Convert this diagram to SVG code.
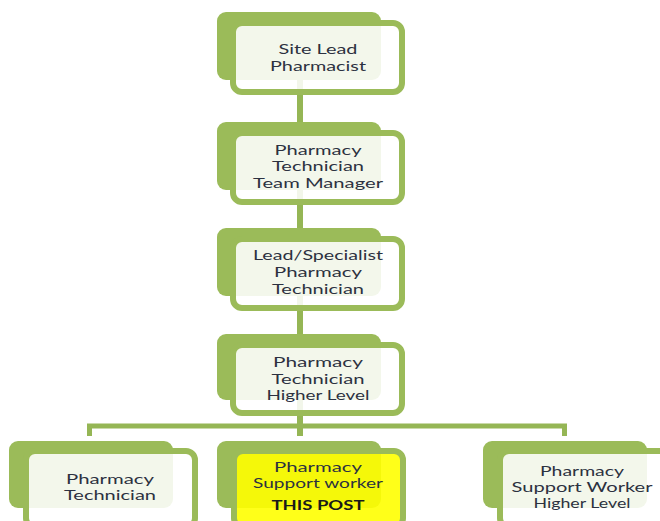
<svg xmlns="http://www.w3.org/2000/svg" width="660" height="521" viewBox="0 0 660 521">
<style>
.back{fill:#9bbb59;}
.front{fill:#ffffff;fill-opacity:0.88;stroke:#9bbb59;stroke-width:6;}
.post{fill:#ffff00;fill-opacity:0.9;stroke:#9bbb59;stroke-width:6;}
.conn{fill:none;stroke:#95b655;stroke-width:6;stroke-linejoin:miter;}
.hconn{fill:none;stroke:#95b655;stroke-width:5;}
text{font-family:Lato,"Open Sans","Liberation Sans",sans-serif;font-size:13px;fill:#2c3140;text-anchor:middle;}
.bold{font-weight:bold;fill:#1a1a1a;}
</style>
<rect width="660" height="521" fill="#ffffff"/>
<g id="connectors">
<line class="conn" x1="300" y1="80" x2="300" y2="125"/>
<line class="conn" x1="300" y1="190" x2="300" y2="231"/>
<line class="conn" x1="300" y1="296" x2="300" y2="337"/>
<line class="conn" x1="300" y1="400" x2="300" y2="436"/>
<path class="hconn" d="M89.5 436 V426 H564.5 V436"/>
</g>
<g id="n1">
<rect class="back" x="217" y="12" width="164" height="68" rx="9"/>
<rect class="front" x="233" y="23" width="169" height="69" rx="9"/>
<text x="318" y="54" textLength="79" lengthAdjust="spacingAndGlyphs">Site Lead</text>
<text x="318" y="71" textLength="96" lengthAdjust="spacingAndGlyphs">Pharmacist</text>
</g>
<g id="n2">
<rect class="back" x="217" y="122" width="164" height="68" rx="9"/>
<rect class="front" x="233" y="133" width="169" height="69" rx="9"/>
<text x="318" y="155" textLength="87" lengthAdjust="spacingAndGlyphs">Pharmacy</text>
<text x="318" y="171" textLength="92" lengthAdjust="spacingAndGlyphs">Technician</text>
<text x="318" y="188" textLength="130" lengthAdjust="spacingAndGlyphs">Team Manager</text>
</g>
<g id="n3">
<rect class="back" x="217" y="228" width="164" height="68" rx="9"/>
<rect class="front" x="233" y="239" width="169" height="69" rx="9"/>
<text x="318" y="260" textLength="130" lengthAdjust="spacingAndGlyphs">Lead/Specialist</text>
<text x="318" y="277" textLength="88" lengthAdjust="spacingAndGlyphs">Pharmacy</text>
<text x="318" y="294" textLength="92" lengthAdjust="spacingAndGlyphs">Technician</text>
</g>
<g id="n4">
<rect class="back" x="217" y="334" width="164" height="66" rx="9"/>
<rect class="front" x="233" y="345" width="169" height="68" rx="9"/>
<text x="318" y="367" textLength="90" lengthAdjust="spacingAndGlyphs">Pharmacy</text>
<text x="318" y="384" textLength="93" lengthAdjust="spacingAndGlyphs">Technician</text>
<text x="318" y="400" textLength="103" lengthAdjust="spacingAndGlyphs">Higher Level</text>
</g>
<g id="n5">
<rect class="back" x="9" y="441" width="164" height="67" rx="9"/>
<rect class="front" x="26" y="451" width="169" height="76" rx="9"/>
<text x="110" y="484" textLength="88" lengthAdjust="spacingAndGlyphs">Pharmacy</text>
<text x="110" y="500" textLength="92" lengthAdjust="spacingAndGlyphs">Technician</text>
</g>
<g id="n6">
<rect class="back" x="217" y="441" width="164" height="67" rx="9"/>
<rect class="post" x="234" y="451" width="169" height="76" rx="9"/>
<text x="318" y="472" textLength="88" lengthAdjust="spacingAndGlyphs">Pharmacy</text>
<text x="318" y="488" textLength="130" lengthAdjust="spacingAndGlyphs">Support worker</text>
<text class="bold" x="318" y="510" textLength="93" lengthAdjust="spacingAndGlyphs">THIS POST</text>
</g>
<g id="n7">
<rect class="back" x="483" y="441" width="164" height="67" rx="9"/>
<rect class="front" x="500" y="451" width="169" height="76" rx="9"/>
<text x="582" y="476" textLength="84" lengthAdjust="spacingAndGlyphs">Pharmacy</text>
<text x="582" y="492" textLength="141" lengthAdjust="spacingAndGlyphs">Support Worker</text>
<text x="582" y="508" textLength="97" lengthAdjust="spacingAndGlyphs">Higher Level</text>
</g>
</svg>
